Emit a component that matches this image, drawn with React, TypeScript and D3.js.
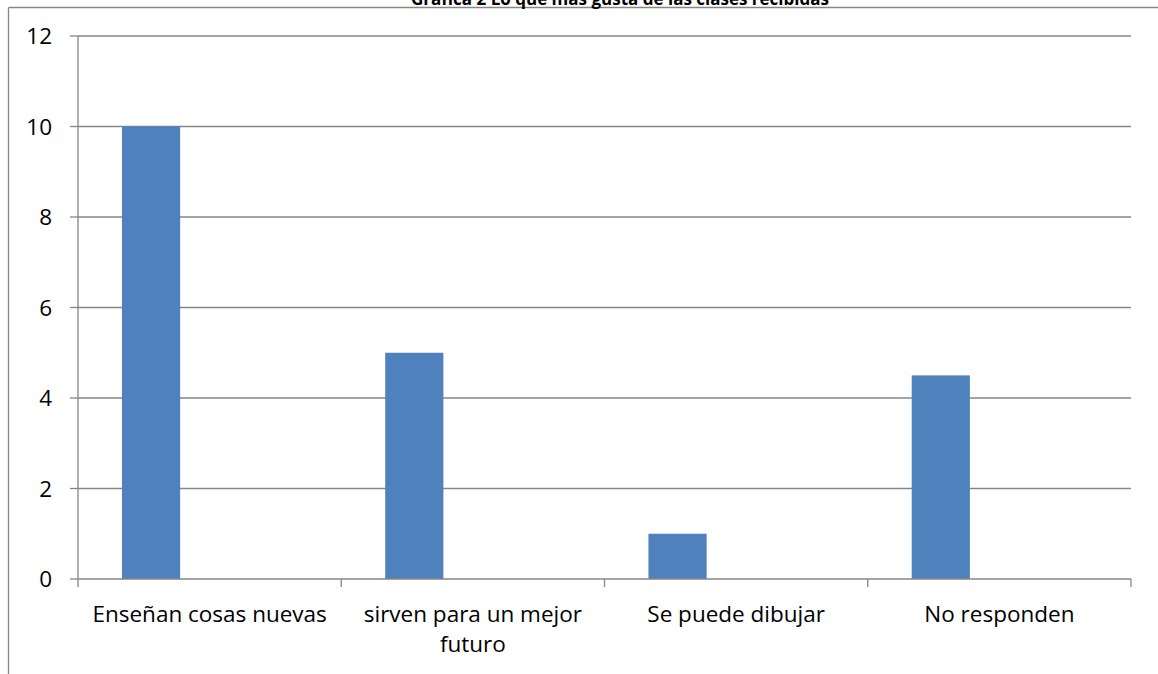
import React from "react";
import * as d3 from "d3";

const title = "Gráfica 2 Lo que más gusta de las clases recibidas";
const categories = ["Enseñan cosas nuevas", "sirven para un mejor futuro", "Se puede dibujar", "No responden"];
const labelLines = [["Enseñan cosas nuevas"], ["sirven para un mejor", "futuro"], ["Se puede dibujar"], ["No responden"]];
const values = [10, 5, 1, 4.5];
const yTicks = [0, 2, 4, 6, 8, 10, 12];

const W = 1158;
const H = 674;
const plot = { left: 78, right: 1131, top: 36, bottom: 579 };
const FONT = "'Open Sans', sans-serif";
const AXIS = "#868686";
const BAR = "#4F81BD";

export default function App() {
  const x = d3.scaleBand<string>().domain(categories).range([plot.left, plot.right]).padding(0);
  const y = d3.scaleLinear().domain([0, 12]).range([plot.bottom, plot.top]);
  const bw = x.bandwidth();
  const barOffset = bw * 0.167;
  const barWidth = bw * 0.221;

  return (
    <svg width={W} height={H} style={{ position: "absolute", left: 0, top: 0, display: "block" }}>
      <rect x={0} y={0} width={W} height={H} fill="#fff" />
      {/* outer chart frame */}
      <line x1={8.5} y1={7.5} x2={W} y2={7.5} stroke={AXIS} strokeWidth={1.3} />
      <line x1={8.5} y1={7.5} x2={8.5} y2={H} stroke={AXIS} strokeWidth={1.3} />
      <text x={620} y={5} textAnchor="middle" fontFamily={FONT} fontWeight="bold" fontSize={17} fill="#000">
        {title}
      </text>
      {/* gridlines and y ticks */}
      {yTicks.map((t) => (
        <g key={t}>
          {t > 0 && (
            <line x1={plot.left} x2={plot.right} y1={y(t)} y2={y(t)} stroke={AXIS} strokeWidth={1.3} />
          )}
          <line x1={plot.left - 8} x2={plot.left} y1={y(t)} y2={y(t)} stroke={AXIS} strokeWidth={1.3} />
          <text x={52} y={y(t)} dy="0.36em" textAnchor="end" fontFamily={FONT} fontSize={22.5} fill="#000">
            {t}
          </text>
        </g>
      ))}
      {/* bars */}
      {categories.map((c, i) => (
        <rect
          key={c}
          x={(x(c) as number) + barOffset}
          y={y(values[i])}
          width={barWidth}
          height={y(0) - y(values[i])}
          fill={BAR}
        />
      ))}
      {/* axes */}
      <line x1={plot.left} x2={plot.left} y1={plot.top} y2={plot.bottom} stroke={AXIS} strokeWidth={1.3} />
      <line x1={plot.left} x2={plot.right} y1={plot.bottom} y2={plot.bottom} stroke={AXIS} strokeWidth={1.3} />
      {[...categories.map((c) => x(c) as number), plot.right].map((tx, i) => (
        <line key={i} x1={tx} x2={tx} y1={plot.bottom} y2={plot.bottom + 8} stroke={AXIS} strokeWidth={1.3} />
      ))}
      {categories.map((c, i) => (
        <text key={c} textAnchor="middle" fontFamily={FONT} fontSize={22.5} fill="#000">
          {labelLines[i].map((ln, j) => (
            <tspan key={j} x={(x(c) as number) + bw / 2} y={622 + j * 30}>
              {ln}
            </tspan>
          ))}
        </text>
      ))}
    </svg>
  );
}
